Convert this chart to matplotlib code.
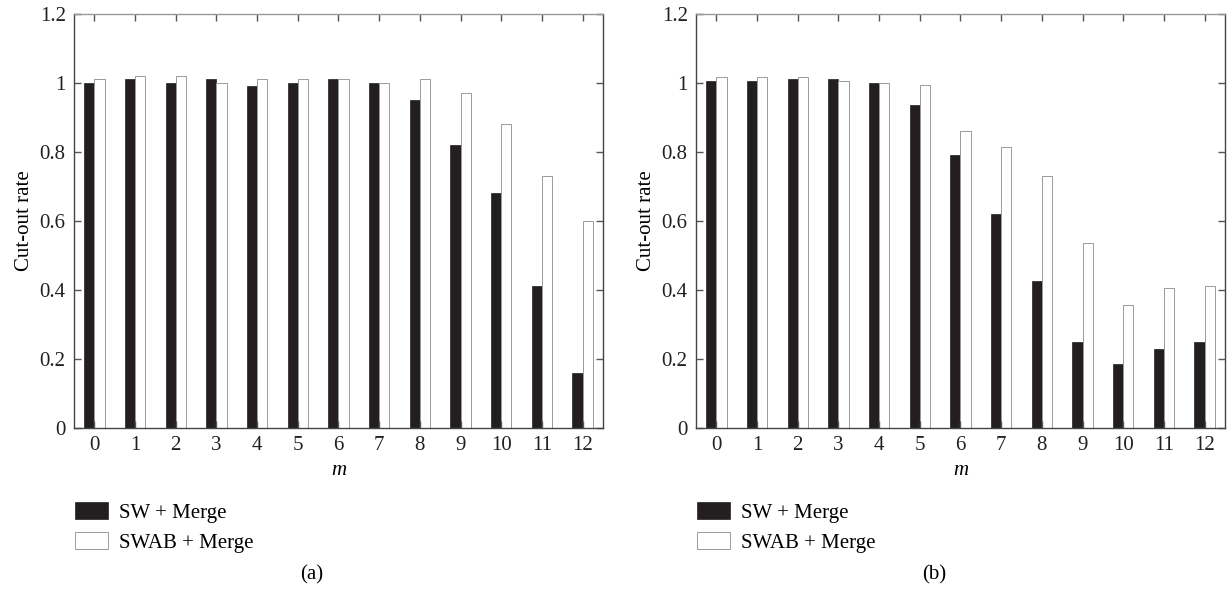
import numpy as np
import matplotlib
matplotlib.use("Agg")
import matplotlib.pyplot as plt

plt.rcParams['font.family'] = ['Liberation Serif', 'DejaVu Serif']

m_values = list(range(13))
ytick_vals = [0, 0.2, 0.4, 0.6, 0.8, 1.0, 1.2]
ytick_labels = ["0", "0.2", "0.4", "0.6", "0.8", "1", "1.2"]

# panel (a)
a_sw = [1.00, 1.01, 1.00, 1.01, 0.99, 1.00, 1.01, 1.00, 0.95, 0.82, 0.68, 0.41, 0.16]
a_swab = [1.01, 1.02, 1.02, 1.00, 1.01, 1.01, 1.01, 1.00, 1.01, 0.97, 0.88, 0.73, 0.60]
# panel (b)
b_sw = [1.005, 1.005, 1.01, 1.01, 1.00, 0.935, 0.79, 0.62, 0.425, 0.25, 0.185, 0.23, 0.25]
b_swab = [1.017, 1.017, 1.017, 1.005, 1.00, 0.995, 0.86, 0.815, 0.73, 0.535, 0.355, 0.405, 0.41]

labels = ["SW + Merge", "SWAB + Merge"]
FS = 15

fig = plt.figure(figsize=(12.28, 5.95), dpi=100)
ax_a = fig.add_axes([0.0603, 0.2807, 0.4307, 0.696])
ax_b = fig.add_axes([0.5668, 0.2807, 0.4307, 0.696])


def draw_panel(ax, sw, swab, tag, ylab_x):
    x = np.array(m_values)
    w = 0.25
    b1 = ax.bar(x, sw, width=-w, align='edge', color='#231f20',
                edgecolor='#231f20', linewidth=0.5, label=labels[0])
    b2 = ax.bar(x, swab, width=w, align='edge', color='white',
                edgecolor='#9a9a9a', linewidth=0.7, label=labels[1])
    ax.set_xlim(-0.5, 12.5)
    ax.set_ylim(0, 1.2)
    ax.set_xticks(m_values)
    ax.set_xticklabels([str(v) for v in m_values], fontsize=FS)
    ax.set_yticks(ytick_vals)
    ax.set_yticklabels(ytick_labels, fontsize=FS)
    ax.tick_params(direction='in', top=True, right=True, length=5,
                   width=1, colors='#555555', labelcolor='#231f20', pad=6)
    for s in ['left', 'right', 'bottom']:
        ax.spines[s].set_color('#444444')
        ax.spines[s].set_linewidth(1.0)
    ax.spines['top'].set_color('#999999')
    ax.spines['top'].set_linewidth(1.0)
    ax.set_xlabel("m", fontsize=FS, style='italic', labelpad=4)
    ax.set_ylabel("Cut-out rate", fontsize=FS)
    ax.yaxis.set_label_coords(ylab_x, 0.5)
    pos = ax.get_position()
    ax.legend(handles=[b1, b2], loc='upper left', frameon=False,
              bbox_to_anchor=(pos.x0 - 0.006, 0.170), bbox_transform=fig.transFigure,
              fontsize=FS, handlelength=1.6, handleheight=0.85,
              handletextpad=0.5, labelspacing=0.45, borderaxespad=0)
    fig.text(pos.x0 + pos.width * 0.45, 0.034, tag, fontsize=FS,
             ha='center', va='center')


draw_panel(ax_a, a_sw, a_swab, "(a)", -0.075)
draw_panel(ax_b, b_sw, b_swab, "(b)", -0.075)

fig.savefig("out.png", dpi=100)
